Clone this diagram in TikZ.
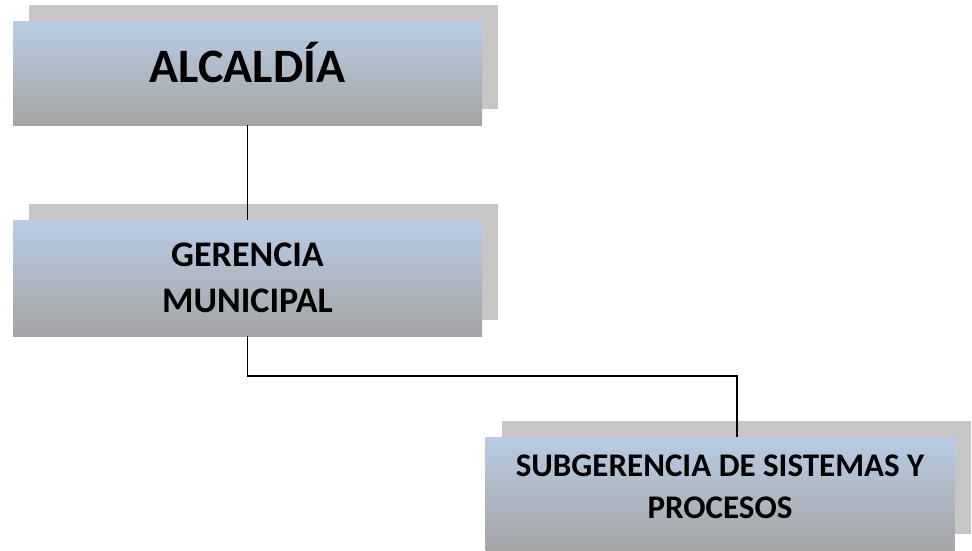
\documentclass[tikz,border=0pt]{standalone}
\usepackage{fontspec}
\setmainfont{Carlito}
\usetikzlibrary{shadows}
\definecolor{boxblue}{HTML}{B8CCE4}
\definecolor{boxgray}{HTML}{A5A5A5}
\definecolor{shadowgray}{HTML}{C6C6C6}
\tikzset{
  orgbox/.style={minimum width=469pt, inner sep=0pt, align=center,
    top color=boxblue, bottom color=boxgray,
    general shadow={shadow xshift=16pt, shadow yshift=16pt, fill=shadowgray}},
  link/.style={line width=1.5pt}
}
\begin{document}
\begin{tikzpicture}[x=1pt,y=-1pt]
\useasboundingbox (0,0) rectangle (972,550);
\node[orgbox, minimum height=104pt, text depth=22pt, font=\bfseries\fontsize{48}{58}\selectfont] (alcaldia) at (247.5,73) {ALCALDÍA};
\node[orgbox, minimum height=116pt, font=\bfseries\fontsize{36}{46}\selectfont] (gerencia) at (247.5,278) {GERENCIA\\MUNICIPAL};
\node[orgbox, minimum height=113pt, text depth=14pt, font=\bfseries\fontsize{33}{42}\selectfont] (subgerencia) at (720,493.5) {SUBGERENCIA DE SISTEMAS Y\\PROCESOS};
\coordinate (bend) at (737,376);
\draw[link] (alcaldia.south) -- (gerencia.north);
\draw[link] (gerencia.south) |- (bend) -- (bend |- subgerencia.north);
\end{tikzpicture}
\end{document}
